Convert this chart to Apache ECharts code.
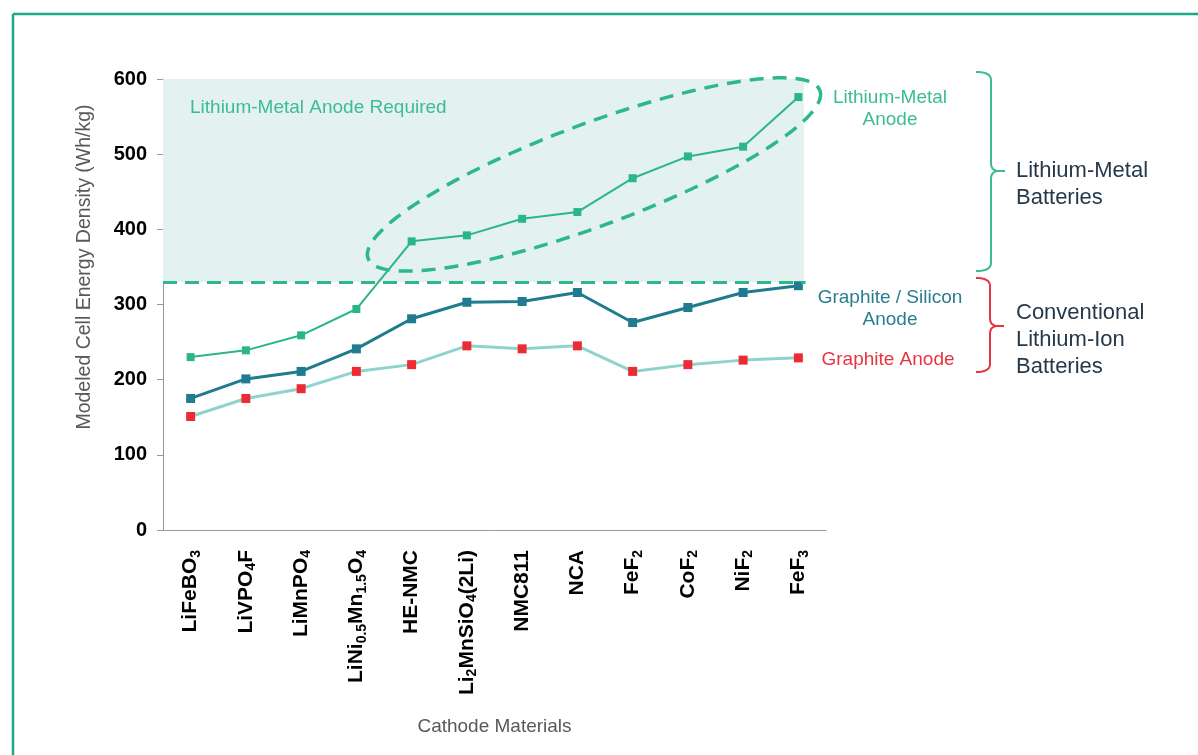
<!DOCTYPE html>
<html><head><meta charset="utf-8">
<script src="https://cdn.jsdelivr.net/npm/echarts@6/dist/echarts.min.js"></script>
<style>html,body{margin:0;padding:0;background:#fff}#c{width:1198px;height:755px}</style>
</head><body><div id="c"></div>
<script>
// ---- data ----
const categories = ['LiFeBO3','LiVPO4F','LiMnPO4','LiNi0.5Mn1.5O4','HE-NMC','Li2MnSiO4(2Li)','NMC811','NCA','FeF2','CoF2','NiF2','FeF3'];
const tickLabels = [
  '{n|LiFeBO}{s|3}',
  '{n|LiVPO}{s|4}{n|F}',
  '{n|LiMnPO}{s|4}',
  '{n|LiNi}{s|0.5}{n|Mn}{s|1.5}{n|O}{s|4}',
  '{n|HE-NMC}',
  '{n|Li}{s|2}{n|MnSiO}{s|4}{n|(2Li)}',
  '{n|NMC811}',
  '{n|NCA}',
  '{n|FeF}{s|2}',
  '{n|CoF}{s|2}',
  '{n|NiF}{s|2}',
  '{n|FeF}{s|3}'
];
const lithiumMetal    = [230, 239, 259, 294, 384, 392, 414, 423, 468, 497, 510, 576];
const graphiteSilicon = [175, 201, 211, 241, 281, 303, 304, 316, 276, 296, 316, 325];
const graphite        = [151, 175, 188, 211, 220, 245, 241, 245, 211, 220, 226, 229];
const yMin = 0, yMax = 600, yInterval = 100;
const threshold = 330;       // Li-metal anode required above this
const areaEnd = 11.1;        // right end of shaded region (category position)

const FONT = '"Liberation Sans", Arial, sans-serif';
const GREEN = '#2db88a';
const chart = echarts.init(document.getElementById('c'));

chart.setOption({
  backgroundColor: '#fff',
  animation: false,
  grid: { left: 163, top: 79, right: 372, bottom: 225 },
  xAxis: [{
    type: 'category', data: categories, boundaryGap: true,
    axisLine: { onZero: false, lineStyle: { color: '#999', width: 1 } },
    axisTick: { show: false },
    axisLabel: {
      rotate: 90, interval: 0, margin: 20,
      formatter: (v) => tickLabels[categories.indexOf(v)],
      rich: {
        n: { fontSize: 21, fontWeight: 'bold', color: '#000', fontFamily: FONT, lineHeight: 25 },
        s: { fontSize: 14, fontWeight: 'bold', color: '#000', fontFamily: FONT, lineHeight: 12, verticalAlign: 'bottom' }
      }
    },
    name: 'Cathode Materials', nameLocation: 'middle', nameGap: 187,
    nameTextStyle: { fontSize: 19, color: '#595959', fontFamily: FONT }
  }, {
    type: 'value', min: -0.5, max: categories.length - 0.5, show: false
  }],
  yAxis: {
    type: 'value', min: yMin, max: yMax, interval: yInterval,
    splitLine: { show: false },
    axisLine: { show: true, onZero: false, lineStyle: { color: '#999' } },
    axisTick: { show: true, length: 6, lineStyle: { color: '#999' } },
    axisLabel: { fontSize: 20, fontWeight: 'bold', color: '#000', margin: 16, fontFamily: FONT }
  },
  series: [
    {
      type: 'line', xAxisIndex: 1, data: [], silent: true, z: 1,
      markArea: { silent: true, itemStyle: { color: '#e3f2f1' },
        data: [[{ coord: [-0.5, yMax] }, { coord: [areaEnd, threshold] }]] },
      markLine: { silent: true, symbol: ['none', 'none'], label: { show: false },
        lineStyle: { color: GREEN, width: 3, type: [14, 8] },
        data: [[{ coord: [-0.5, threshold] }, { coord: [areaEnd + 0.03, threshold] }]] }
    },
    {
      name: 'Graphite Anode', type: 'line', data: graphite, z: 3,
      symbol: 'rect', symbolSize: 9,
      lineStyle: { color: '#8fd4cb', width: 3 }, itemStyle: { color: '#ee2a35' }
    },
    {
      name: 'Graphite / Silicon Anode', type: 'line', data: graphiteSilicon, z: 4,
      symbol: 'rect', symbolSize: 9,
      lineStyle: { color: '#1f7b8e', width: 3 }, itemStyle: { color: '#1f7b8e' }
    },
    {
      name: 'Lithium-Metal Anode', type: 'line', data: lithiumMetal, z: 5,
      symbol: 'rect', symbolSize: 8,
      lineStyle: { color: '#2bb685', width: 2 }, itemStyle: { color: '#2bb685' }
    }
  ]
});

// ---- annotations ----
const ellipse = { cx: 7.3, cy: 473, rx: 241, ry: 51, angleDeg: -20.4 };
const c = chart.convertToPixel({ xAxisIndex: 1, yAxisIndex: 0 }, [ellipse.cx, ellipse.cy]);
const th = ellipse.angleDeg * Math.PI / 180;
const ePts = [];
for (let i = 0; i <= 240; i++) {
  const t = i / 240 * Math.PI * 2;
  const u = ellipse.rx * Math.cos(t), v = ellipse.ry * Math.sin(t);
  ePts.push([c[0] + u * Math.cos(th) - v * Math.sin(th), c[1] + u * Math.sin(th) + v * Math.cos(th)]);
}

function quad(pts, p0, p1, p2) {
  for (let i = 0; i <= 10; i++) {
    const t = i / 10, a = (1 - t) * (1 - t), b = 2 * (1 - t) * t, d = t * t;
    pts.push([a * p0[0] + b * p1[0] + d * p2[0], a * p0[1] + b * p1[1] + d * p2[1]]);
  }
}
function brace(xl, xv, xt, yt, ym, yb, r) {
  const p = [];
  quad(p, [xl, yt], [xv, yt], [xv, yt + r]);
  quad(p, [xv, ym - r], [xv, ym], [xv + r, ym]);
  p.push([xt, ym]);
  quad(p, [xv + r, ym], [xv, ym], [xv, ym + r]);
  quad(p, [xv, yb - r], [xv, yb], [xl, yb]);
  return p;
}

const txt = (x, y, text, fill, size, align, lh, extra) => Object.assign({
  type: 'text', x, y, z: 20,
  style: { text, fill, font: size + 'px ' + FONT, align, verticalAlign: 'middle', lineHeight: lh }
}, extra || {});

chart.setOption({
  graphic: [
    { type: 'line', z: 20, shape: { x1: 13, y1: 14, x2: 13, y2: 760 }, style: { stroke: '#1aaa8a', lineWidth: 2.5 } },
    { type: 'line', z: 20, shape: { x1: 13, y1: 14, x2: 1200, y2: 14 }, style: { stroke: '#1aaa8a', lineWidth: 2.5 } },
    { type: 'polyline', z: 20, shape: { points: ePts }, style: { stroke: GREEN, lineWidth: 3.5, fill: null, lineDash: [14, 9] } },
    { type: 'polyline', z: 20, shape: { points: brace(976, 991, 1005, 72, 171, 271, 8) }, style: { stroke: '#3dbd8f', lineWidth: 2, fill: null } },
    { type: 'polyline', z: 20, shape: { points: brace(976, 990, 1004, 278, 326, 372, 8) }, style: { stroke: '#e8343e', lineWidth: 2, fill: null } },
    txt(190, 108, 'Lithium-Metal Anode Required', '#3dbd8f', 19, 'left', 22),
    txt(890, 109, 'Lithium-Metal\nAnode', '#3dbd8f', 19, 'center', 22),
    txt(890, 309, 'Graphite / Silicon\nAnode', '#2a7d90', 19, 'center', 22),
    txt(888, 360, 'Graphite Anode', '#e8343e', 19, 'center', 22),
    txt(1016, 184, 'Lithium-Metal\nBatteries', '#26394a', 22, 'left', 27),
    txt(1016, 340, 'Conventional\nLithium-Ion\nBatteries', '#26394a', 22, 'left', 27),
    txt(85, 267, 'Modeled Cell Energy Density (Wh/kg)', '#595959', 19.5, 'center', 22, { rotation: Math.PI / 2 })
  ]
});
</script>
</body></html>
